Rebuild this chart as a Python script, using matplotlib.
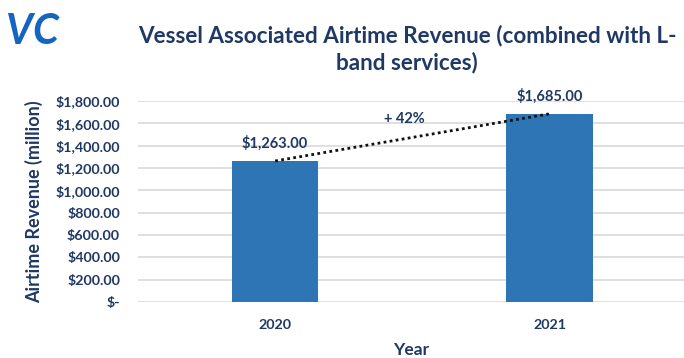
import numpy as np
import matplotlib
matplotlib.use("Agg")
import matplotlib.pyplot as plt
from matplotlib.ticker import FuncFormatter, MultipleLocator

years = ["2020", "2021"]
revenue = [1263.0, 1685.0]
growth_label = "+ 42%"

navy = "#1F3864"
bar_color = "#2E75B6"

plt.rcParams['font.family'] = ['Lato', 'DejaVu Sans']

fig = plt.figure(figsize=(6.84, 3.58), dpi=100)
ax = fig.add_axes([138/684, 1 - 302/358, 1 - 138/684, (302 - 101)/358])

x = np.arange(len(years))
ax.bar(x, revenue, width=0.314, color=bar_color, zorder=3)

# trend line between bar tops
ax.plot(x, revenue, linestyle=(0, (1, 1.2)), color="#111111", linewidth=2, zorder=4)

for xi, v in zip(x, revenue):
    ax.text(xi, v + 90, f"${v:,.2f}", ha="center", va="bottom",
            fontsize=10.5, fontweight="bold", color=navy, zorder=5)

ax.text(0.47, 1640, growth_label, ha="center", va="center",
        fontsize=10.5, fontweight="bold", color=navy)

ax.set_xlim(-0.5, 1.49)
ax.set_ylim(0, 1800)
ax.yaxis.set_major_locator(MultipleLocator(200))
ax.yaxis.set_major_formatter(FuncFormatter(lambda v, p: "$-" if v == 0 else f"${v:,.2f}"))
ax.set_xticks(x)
ax.set_xticklabels(years)
ax.grid(axis="y", color="#D9D9D9", linewidth=1.2, zorder=0)
ax.tick_params(length=0)
ax.tick_params(axis="y", pad=13)
ax.tick_params(axis="x", pad=12)
for lab in ax.get_xticklabels() + ax.get_yticklabels():
    lab.set_fontweight("bold")
    lab.set_color(navy)
    lab.set_fontsize(10.3)
for s in ax.spines.values():
    s.set_visible(False)

ax.set_ylabel("Airtime Revenue (million)", fontsize=13, fontweight="bold", color=navy, labelpad=9)
ax.set_xlabel("Year", fontsize=12.5, fontweight="bold", color=navy, labelpad=8)

fig.text(0.595, 1 - 36/358, "Vessel Associated Airtime Revenue (combined with L-",
         ha="center", va="center", fontsize=16.2, fontweight="bold", color=navy)
fig.text(0.595, 1 - 63/358, "band services)",
         ha="center", va="center", fontsize=16.2, fontweight="bold", color=navy)

# logo
fig.text(6/684, 1 - 32/358, "VC", ha="left", va="center", fontsize=30,
         fontweight="bold", fontstyle="italic", color="#1565C0")

fig.savefig("out.png", dpi=100)
